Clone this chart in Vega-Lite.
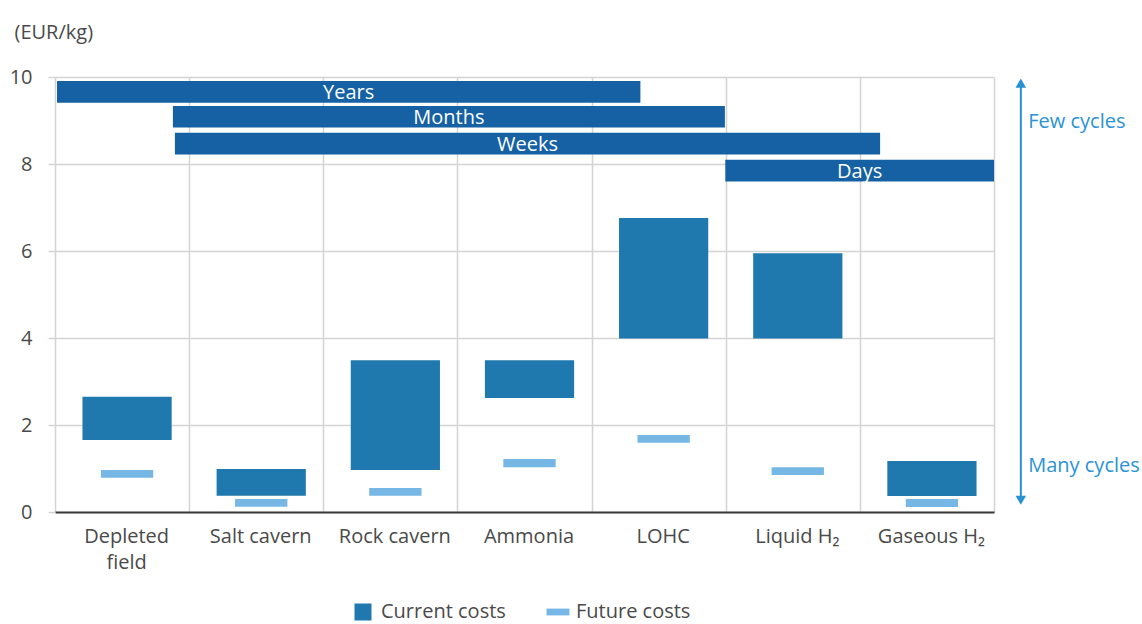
{
  "$schema": "https://vega.github.io/schema/vega-lite/v6.json",
  "width": 939,
  "height": 435,
  "autosize": {"type": "none"},
  "padding": {"left": 55, "top": 77, "right": 148, "bottom": 112},
  "background": "white",
  "config": {
    "font": "Open Sans",
    "view": {"stroke": null},
    "axis": {"labelFont": "Open Sans", "titleFont": "Open Sans", "labelColor": "#4a4a4a", "titleColor": "#4a4a4a"},
    "legend": {"labelFont": "Open Sans"}
  },
  "datasets": {
    "current": [
      {"category": "Depleted field", "type": "Current costs", "low": 1.655, "high": 2.65},
      {"category": "Salt cavern", "type": "Current costs", "low": 0.375, "high": 0.99},
      {"category": "Rock cavern", "type": "Current costs", "low": 0.966, "high": 3.49},
      {"category": "Ammonia", "type": "Current costs", "low": 2.62, "high": 3.49},
      {"category": "LOHC", "type": "Current costs", "low": 3.99, "high": 6.76},
      {"category": "Liquid H₂", "type": "Current costs", "low": 3.99, "high": 5.95},
      {"category": "Gaseous H₂", "type": "Current costs", "low": 0.37, "high": 1.17}
    ],
    "future": [
      {"category": "Depleted field", "type": "Future costs", "low": 0.79, "high": 0.966},
      {"category": "Salt cavern", "type": "Future costs", "low": 0.12, "high": 0.30},
      {"category": "Rock cavern", "type": "Future costs", "low": 0.375, "high": 0.55},
      {"category": "Ammonia", "type": "Future costs", "low": 1.03, "high": 1.22},
      {"category": "LOHC", "type": "Future costs", "low": 1.59, "high": 1.77},
      {"category": "Liquid H₂", "type": "Future costs", "low": 0.85, "high": 1.03},
      {"category": "Gaseous H₂", "type": "Future costs", "low": 0.115, "high": 0.30}
    ],
    "durations": [
      {"duration": "Years", "start": 0.015, "end": 4.364, "top": 9.91, "bottom": 9.41},
      {"duration": "Months", "start": 0.879, "end": 4.994, "top": 9.335, "bottom": 8.837},
      {"duration": "Weeks", "start": 0.894, "end": 6.151, "top": 8.716, "bottom": 8.218},
      {"duration": "Days", "start": 4.997, "end": 7.0, "top": 8.096, "bottom": 7.599}
    ],
    "arrow": [
      {"x": 7.2, "y1": 0.3, "y2": 9.8}
    ],
    "arrowheads": [
      {"x": 7.2, "y": 9.86, "dir": "up"},
      {"x": 7.2, "y": 0.27, "dir": "down"}
    ],
    "cycles": [
      {"x": 7.255, "y": 8.97, "label": "Few cycles"},
      {"x": 7.255, "y": 1.055, "label": "Many cycles"}
    ]
  },
  "layer": [
    {
      "layer": [
        {
          "data": {"name": "current"},
          "mark": {"type": "bar", "width": {"band": 0.665}, "xOffset": 5},
          "encoding": {
            "x": {
              "field": "category", "type": "nominal",
              "sort": ["Depleted field", "Salt cavern", "Rock cavern", "Ammonia", "LOHC", "Liquid H₂", "Gaseous H₂"],
              "scale": {"paddingInner": 0, "paddingOuter": 0},
              "axis": {
                "title": null, "labelAngle": 0, "tickBand": "extent", "ticks": false, "tickSize": 0,
                "grid": true, "gridColor": "#d4d4d4", "gridWidth": 1.5,
                "domainColor": "#3a3a3a", "domainWidth": 2,
                "labelFontSize": 20, "labelPadding": 14, "labelLineHeight": 26, "labelOffset": 4,
                "labelExpr": "datum.value == 'Depleted field' ? ['Depleted', 'field'] : datum.value"
              }
            },
            "y": {
              "field": "low", "type": "quantitative",
              "scale": {"domain": [0, 10], "nice": false},
              "axis": {
                "title": "(EUR/kg)", "titleAngle": 0, "titleAlign": "left", "titleBaseline": "alphabetic",
                "titleX": -41, "titleY": -39, "titleFontSize": 20, "titleFontWeight": "normal",
                "values": [0, 2, 4, 6, 8, 10], "domain": false,
                "grid": true, "gridColor": "#d4d4d4", "gridWidth": 1.5,
                "tickColor": "#d4d4d4", "tickWidth": 1.5, "tickSize": 7,
                "labelFontSize": 20, "labelPadding": 16
              }
            },
            "y2": {"field": "high"},
            "color": {
              "field": "type", "type": "nominal",
              "scale": {"domain": ["Current costs", "Future costs"], "range": ["#1f78ae", "#76b7e5"]},
              "legend": {
                "title": null, "orient": "none", "direction": "horizontal",
                "legendX": 298, "legendY": 525,
                "labelFontSize": 20, "labelColor": "#4a4a4a", "labelOffset": 8,
                "symbolSize": 289, "symbolStrokeWidth": 0, "columnPadding": 40,
                "encode": {
                  "symbols": {
                    "update": {
                      "shape": {"signal": "datum.value == 'Future costs' ? 'M-1.35,-0.4H1.35V0.4H-1.35Z' : 'square'"}
                    }
                  }
                }
              }
            }
          }
        },
        {
          "data": {"name": "future"},
          "mark": {"type": "bar", "width": {"band": 0.39}, "xOffset": 5},
          "encoding": {
            "x": {
              "field": "category", "type": "nominal",
              "sort": ["Depleted field", "Salt cavern", "Rock cavern", "Ammonia", "LOHC", "Liquid H₂", "Gaseous H₂"]
            },
            "y": {"field": "low", "type": "quantitative"},
            "y2": {"field": "high"},
            "color": {"field": "type", "type": "nominal"}
          }
        }
      ]
    },
    {
      "layer": [
        {
          "data": {"name": "durations"},
          "mark": {"type": "rect", "color": "#1561a4"},
          "encoding": {
            "x": {"field": "start", "type": "quantitative", "scale": {"domain": [0, 7], "nice": false, "zero": false}, "axis": null},
            "x2": {"field": "end"},
            "y": {"field": "bottom", "type": "quantitative"},
            "y2": {"field": "top"}
          }
        },
        {
          "data": {"name": "durations"},
          "transform": [
            {"calculate": "(datum.start + datum.end) / 2", "as": "mid"},
            {"calculate": "(datum.top + datum.bottom) / 2", "as": "midy"}
          ],
          "mark": {"type": "text", "color": "white", "fontSize": 20, "align": "center", "baseline": "middle", "dy": 1},
          "encoding": {
            "x": {"field": "mid", "type": "quantitative"},
            "y": {"field": "midy", "type": "quantitative"},
            "text": {"field": "duration"}
          }
        },
        {
          "data": {"name": "arrow"},
          "mark": {"type": "rule", "color": "#2691d3", "strokeWidth": 2},
          "encoding": {
            "x": {"field": "x", "type": "quantitative"},
            "y": {"field": "y1", "type": "quantitative"},
            "y2": {"field": "y2"}
          }
        },
        {
          "data": {"name": "arrowheads"},
          "mark": {"type": "point", "filled": true, "color": "#2691d3", "size": 110, "opacity": 1},
          "encoding": {
            "x": {"field": "x", "type": "quantitative"},
            "y": {"field": "y", "type": "quantitative"},
            "shape": {"field": "dir", "type": "nominal", "scale": {"domain": ["up", "down"], "range": ["triangle-up", "triangle-down"]}, "legend": null}
          }
        },
        {
          "data": {"name": "cycles"},
          "mark": {"type": "text", "color": "#2a93d5", "fontSize": 20, "align": "left", "baseline": "middle"},
          "encoding": {
            "x": {"field": "x", "type": "quantitative"},
            "y": {"field": "y", "type": "quantitative"},
            "text": {"field": "label"}
          }
        }
      ]
    }
  ],
  "resolve": {"scale": {"x": "independent"}}
}
